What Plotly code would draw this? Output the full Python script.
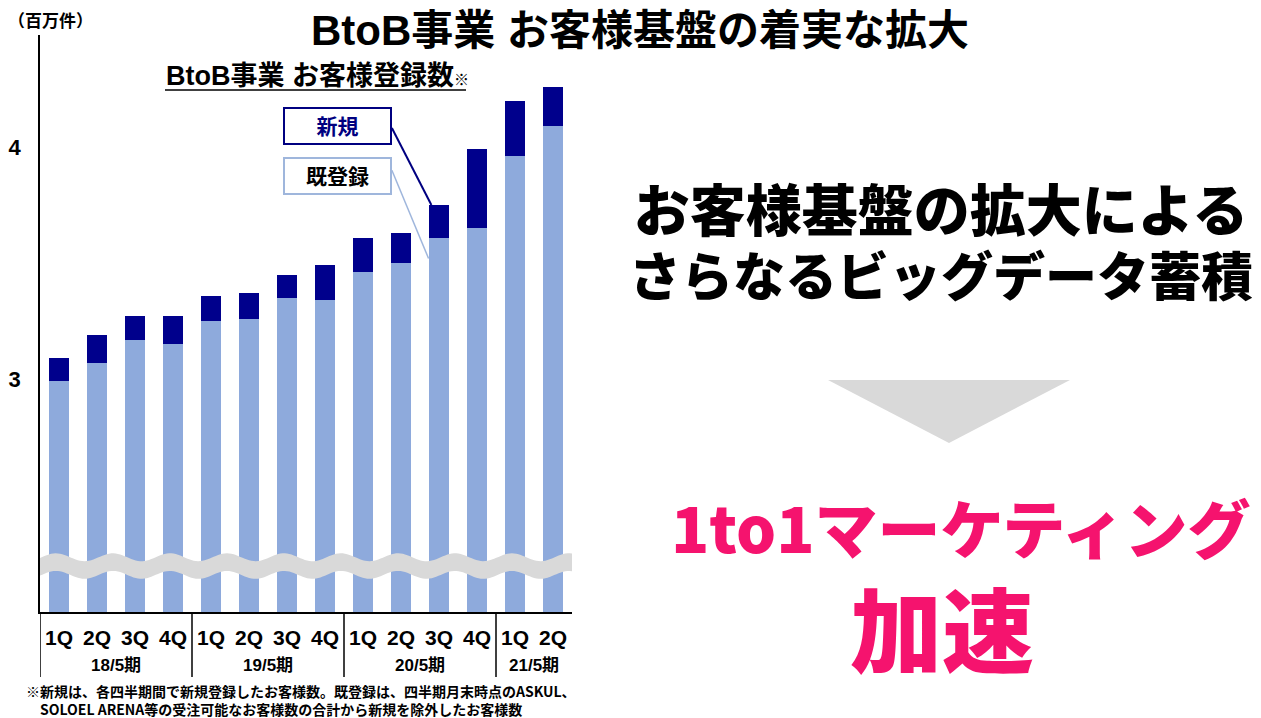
import numpy as np
import plotly.graph_objects as go

# ---- data (millions of registered BtoB customers) ----
quarters = ["1Q", "2Q", "3Q", "4Q", "1Q", "2Q", "3Q", "4Q",
            "1Q", "2Q", "3Q", "4Q", "1Q", "2Q"]
fiscal_years = ["18/5期", "19/5期", "20/5期", "21/5期"]
quarters_per_year = [4, 4, 4, 2]
existing = [2.99, 3.07, 3.17, 3.15, 3.25, 3.26, 3.35, 3.34, 3.46, 3.50, 3.61, 3.65, 3.96, 4.09]
new = [0.10, 0.12, 0.10, 0.12, 0.11, 0.11, 0.10, 0.15, 0.15, 0.13, 0.14, 0.34, 0.24, 0.17]
y_ticks = [3, 4]

W, H = 1261, 718
LIGHT = "#8eaadc"
DARK = "#00008c"
PINK = "#f5136e"
JP = "Liberation Sans, Noto Sans CJK JP"


def px(x):
    return x / W


def py(y):
    return 1 - y / H


xs = list(range(len(quarters)))
totals = [e + n for e, n in zip(existing, new)]

fig = go.Figure()
fig.add_trace(go.Bar(x=xs, y=existing, marker=dict(color=LIGHT, line=dict(width=0)),
                     width=0.55, name="既登録"))
fig.add_trace(go.Bar(x=xs, y=new, marker=dict(color=DARK, line=dict(width=0)),
                     width=0.55, name="新規"))

# axis geometry
x_left, x_right = 40, 572
y_bottom, y_top = 612, 35
y_lo, y_hi = 1.996, 4.483

fig.update_layout(
    width=W, height=H, margin=dict(l=0, r=0, t=0, b=0),
    paper_bgcolor="white", plot_bgcolor="white",
    barmode="stack", showlegend=False,
    font=dict(family=JP, color="black"),
    xaxis=dict(domain=[px(x_left), px(x_right)], range=[-0.5, len(xs) - 0.5],
               tickvals=xs, ticktext=quarters, showgrid=False, zeroline=False,
               showline=True, linecolor="black", linewidth=1.5, ticks="",
               tickfont=dict(family="Liberation Sans", size=21, color="black", weight="bold"),
               ticklabelstandoff=6, automargin=False),
    yaxis=dict(domain=[py(y_bottom), py(y_top)], range=[y_lo, y_hi],
               tickvals=y_ticks, ticktext=[str(t) for t in y_ticks],
               showgrid=False, zeroline=False, showline=True, linecolor="black",
               linewidth=1.5, ticks="", ticklabelstandoff=13,
               tickfont=dict(family="Liberation Sans", size=22, color="black", weight="bold"),
               automargin=False),
)

shapes = []

# axis break: wavy grey band across the bars
wx = np.linspace(-0.5, len(xs) - 0.5, 240)
wc = 2.194 + 0.017 * np.cos(2 * np.pi * (wx + 0.08) / 1.5)
half = 0.038
pts_top = [f"{a:.4f},{b + half:.4f}" for a, b in zip(wx, wc)]
pts_bot = [f"{a:.4f},{b - half:.4f}" for a, b in zip(wx[::-1], wc[::-1])]
wave = "M " + " L ".join(pts_top + pts_bot) + " Z"
shapes.append(dict(type="path", path=wave, xref="x", yref="y",
                   fillcolor="#d9d9d9", line=dict(width=0), layer="above"))

# fiscal-year dividers under the axis
bounds = [-0.5]
for n in quarters_per_year:
    bounds.append(bounds[-1] + n)
for b in bounds[:-1]:
    shapes.append(dict(type="line", xref="x", yref="paper", x0=b, x1=b,
                       y0=py(y_bottom), y1=py(677), line=dict(color="black", width=1.5)))

# leader lines from the legend boxes to the 3Q bar of FY20/5
k = 10
shapes.append(dict(type="line", xref="x", yref="y", x0=8.76, y0=4.082,
                   x1=k - 0.2, y1=totals[k], line=dict(color="#000080", width=2)))
shapes.append(dict(type="line", xref="x", yref="y", x0=8.76, y0=3.90,
                   x1=k - 0.275, y1=3.52, line=dict(color="#9fb6dc", width=1.5)))

# underline of chart subtitle
shapes.append(dict(type="line", xref="paper", yref="paper", x0=px(165), x1=px(466),
                   y0=py(90), y1=py(90), line=dict(color="black", width=1.5)))

# grey down arrow
tri = f"M {px(828)},{py(380)} L {px(1070)},{py(380)} L {px(949)},{py(443)} Z"
shapes.append(dict(type="path", path=tri, xref="paper", yref="paper",
                   fillcolor="#d9d9d9", line=dict(width=0)))

fig.update_layout(shapes=shapes)

ann = []


def text(t, x, y, size, color="black", xanchor="center", weight="bold", family=JP, **kw):
    ann.append(dict(text=t, x=px(x), y=py(y), xref="paper", yref="paper",
                    xanchor=xanchor, yanchor="middle", showarrow=False,
                    font=dict(family=family, size=size, color=color, weight=weight), **kw))


text("BtoB事業 お客様基盤の着実な拡大", 640, 30, 42)
text("（百万件）", 50, 22, 17)
text("BtoB事業 お客様登録数<span style='font-size:15px'>※</span>", 164, 76, 27, xanchor="left")

# legend boxes
ann.append(dict(text="新規", x=px(337), y=py(126), xref="paper", yref="paper",
                xanchor="center", yanchor="middle",
                showarrow=False, width=105, height=34, bgcolor="white",
                bordercolor="#000080", borderwidth=2, borderpad=0,
                font=dict(family=JP, size=21, color="#000080", weight="bold")))
ann.append(dict(text="既登録", x=px(337), y=py(176), xref="paper", yref="paper",
                xanchor="center", yanchor="middle",
                showarrow=False, width=105, height=34, bgcolor="white",
                bordercolor="#9fb6dc", borderwidth=2, borderpad=0,
                font=dict(family=JP, size=21, color="black", weight="bold")))

# fiscal-year labels
start = 0
for fy, n in zip(fiscal_years, quarters_per_year):
    cx = start + (n - 1) / 2
    ann.append(dict(text=fy, x=cx, y=py(665), xref="x", yref="paper", showarrow=False,
                    xanchor="center", yanchor="middle",
                    font=dict(family=JP, size=17, color="black", weight="bold")))
    start += n

# footnote (two lines, second one indented)
text("※新規は、各四半期間で新規登録したお客様数。既登録は、四半期月末時点のASKUL、<br>"
     "<span style='color:white'>※</span>SOLOEL ARENA等の受注可能なお客様数の合計から新規を除外したお客様数",
     24, 700, 14, xanchor="left", family="Noto Sans CJK JP", align="left")

# right-hand message
text("<span style='font-size:56px'>お客様基盤の拡大による</span><br>"
     "<span style='font-size:52px'>さらなるビッグデータ蓄積</span>",
     941, 238, 50, weight=900, family="Noto Sans CJK JP")
text("1to1マーケティング", 960, 525, 63, color=PINK, weight=900, family="Noto Sans CJK JP")
text("加速", 942, 625, 92, color=PINK, weight=900, family="Noto Sans CJK JP")

fig.update_layout(annotations=ann)
fig.write_html("out.html")
